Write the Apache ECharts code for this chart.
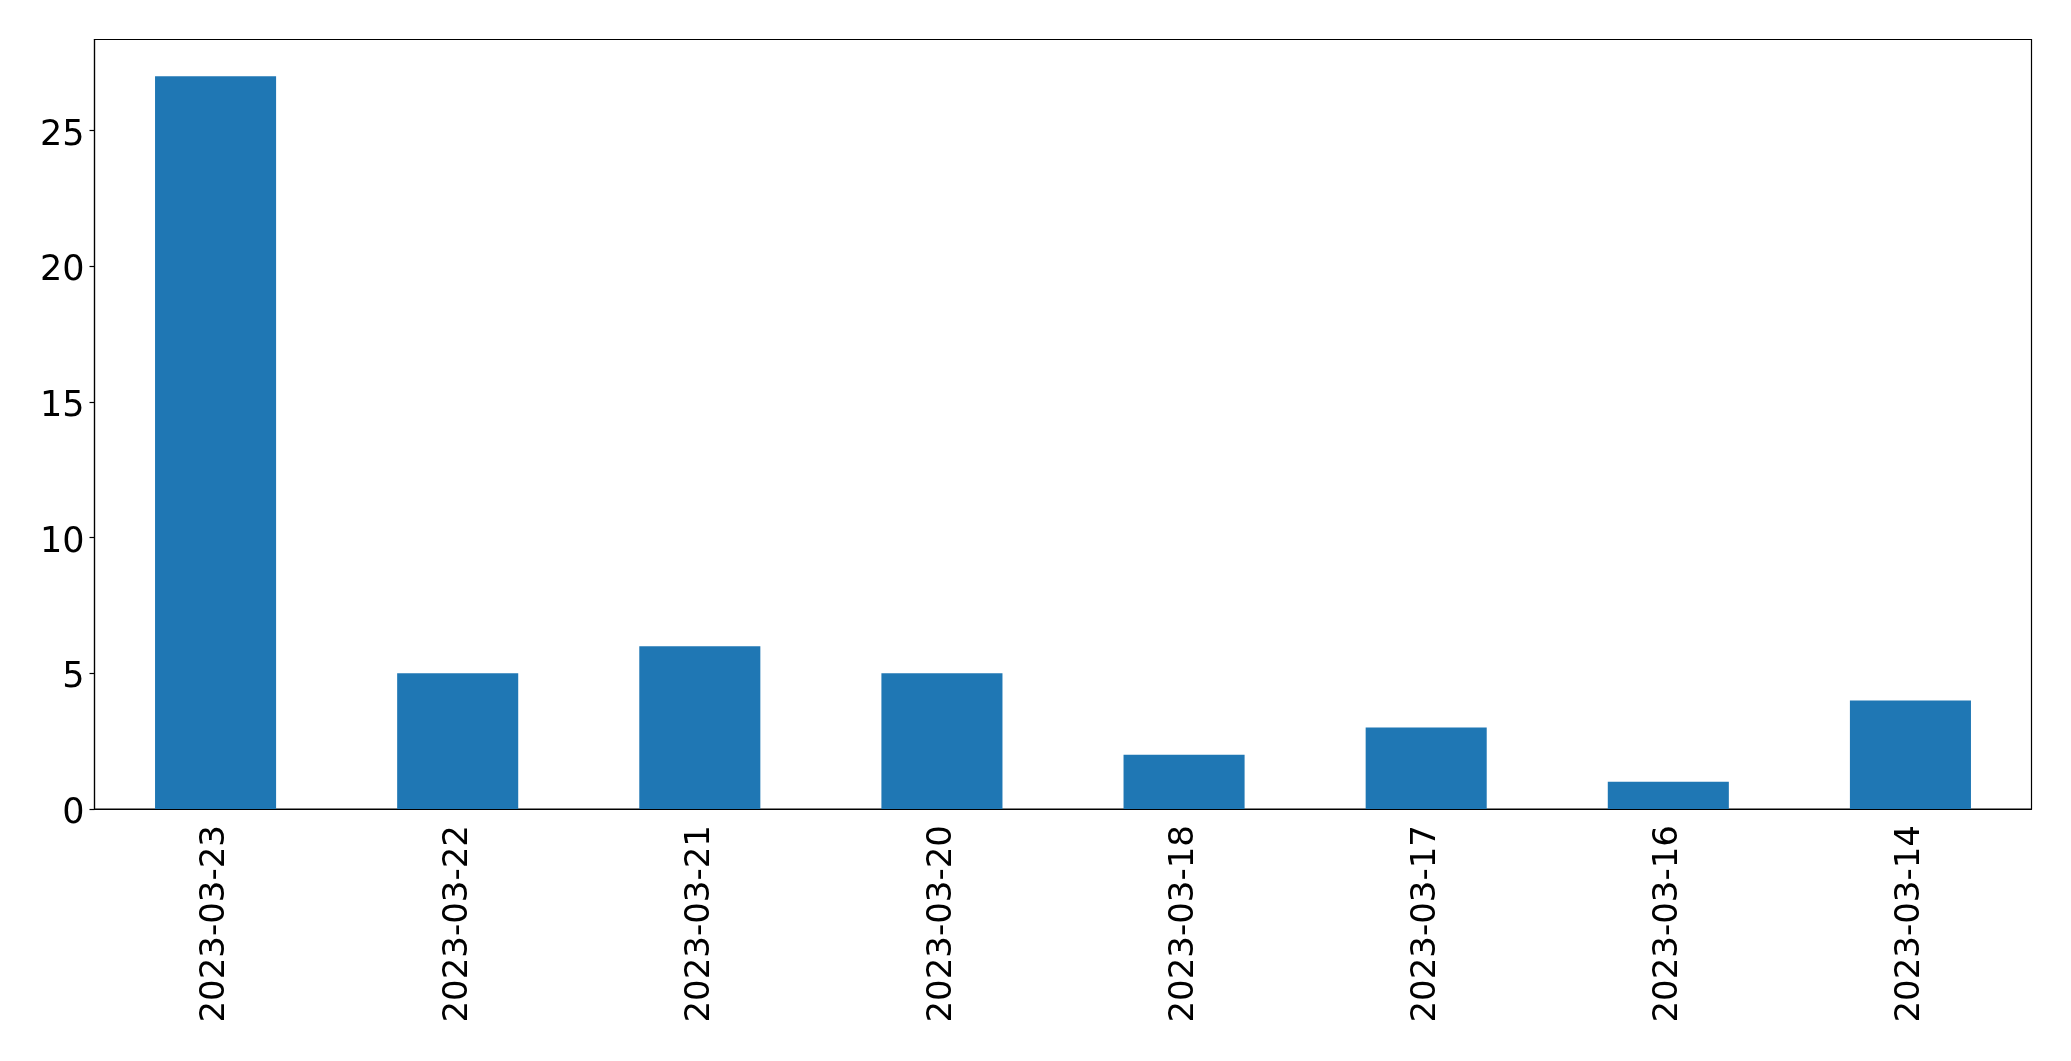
<!DOCTYPE html>
<html>
<head>
<meta charset="utf-8">
<script src="https://cdn.jsdelivr.net/npm/echarts@6/dist/echarts.min.js"></script>
<style>html,body{margin:0;padding:0;background:#fff}#c{width:2071px;height:1061px}</style>
</head>
<body>
<div id="c"></div>
<script>
const categories = ["2023-03-23","2023-03-22","2023-03-21","2023-03-20","2023-03-18","2023-03-17","2023-03-16","2023-03-14"];
const values = [27, 5, 6, 5, 2, 3, 1, 4];
const yTicks = [0, 5, 10, 15, 20, 25];

const chart = echarts.init(document.getElementById('c'), null, {renderer: 'canvas'});
const font = 'DejaVu Sans';
chart.setOption({
  animation: false,
  grid: {left: 94.5, top: 39.5, right: 39.5, bottom: 252, show: true, borderColor: '#000', borderWidth: 1.2, backgroundColor: 'transparent'},
  xAxis: {
    type: 'category',
    data: categories,
    boundaryGap: true,
    axisLine: {lineStyle: {color: '#000', width: 1.2}},
    axisTick: {alignWithLabel: true, length: 5, lineStyle: {color: '#000', width: 1.2}},
    axisLabel: {rotate: 90, fontFamily: font, fontSize: 34, color: '#000', margin: 16}
  },
  yAxis: {
    type: 'value',
    min: 0, max: 28.35, interval: 5,
    splitLine: {show: false},
    axisLine: {show: true, lineStyle: {color: '#000', width: 1.2}},
    axisTick: {show: true, inside: false, length: 5, lineStyle: {color: '#000', width: 1.2}, customValues: yTicks},
    axisLabel: {
      fontFamily: font, fontSize: 35, color: '#000', margin: 10, customValues: yTicks,
      formatter: function (v) { return '{a|' + v + '}'; },
      rich: {a: {fontFamily: font, fontSize: 35, color: '#000', padding: [10, 0, 0, 0]}}
    }
  },
  series: [{
    type: 'bar',
    data: values,
    barWidth: '50%',
    itemStyle: {color: '#1f77b4'}
  }]
});
</script>
</body>
</html>
